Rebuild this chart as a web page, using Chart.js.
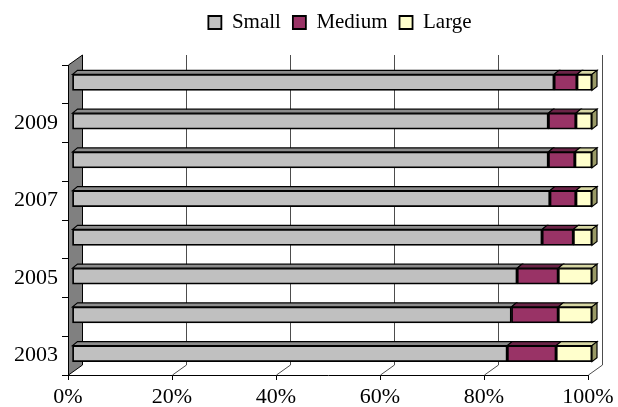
<!DOCTYPE html>
<html>
<head>
<meta charset="utf-8">
<script src="https://cdn.jsdelivr.net/npm/chart.js@4/dist/chart.umd.min.js"></script>
<style>
  html, body { margin: 0; padding: 0; background: #ffffff; }
  #wrap { width: 618px; height: 407px; }
</style>
</head>
<body>
<div id="wrap"><canvas id="c" width="618" height="407"></canvas></div>
<script>
// Share of enterprises by size class, per year
const years = ['2003', '2004', '2005', '2006', '2007', '2008', '2009', '2010'];
const small = [83.7, 84.5, 85.6, 90.4, 91.9, 91.6, 91.6, 92.7];
const medium = [9.4, 9.0, 7.9, 6.0, 5.0, 5.1, 5.3, 4.4];
const large = [6.9, 6.5, 6.5, 3.6, 3.1, 3.3, 3.1, 2.9];
const percentTicks = [0, 20, 40, 60, 80, 100];

const SERIF = "'Liberation Serif', 'Times New Roman', serif";
const LEGEND_FONT = { family: SERIF, size: 21 };
const AXIS_FONT = { family: SERIF, size: 22 };

// depth of the plot box (walls/floor) and of the bars
const WALL_DX = 14, WALL_DY = 10;
const BAR_SHIFT_X = 4, BAR_SHIFT_Y = -2;
const BAR_DX = 5, BAR_DY = 4;
const topFaces = ['#8c8c8c', '#6b2447', '#d6d6a3'];
const sideFaces = ['#8c8c8c', '#6b2447', '#999966'];

const depthPlugin = {
  id: 'depth3d',
  beforeInit(chart) {
    // leave room between the legend row and the plot box
    const fit = chart.legend.fit;
    chart.legend.fit = function () {
      fit.call(this);
      this.height += 22;
    };
  },
  beforeDatasetsDraw(chart) {
    const { ctx, chartArea: a, scales } = chart;
    const xs = scales.x;
    ctx.save();
    // back wall grid lines continuing across the floor
    ctx.strokeStyle = '#4d4d4d';
    ctx.lineWidth = 1;
    percentTicks.forEach(v => {
      if (v === 0) return;
      const px = Math.round(xs.getPixelForValue(v)) + 0.5;
      ctx.beginPath();
      ctx.moveTo(px + WALL_DX, a.top - WALL_DY);
      ctx.lineTo(px + WALL_DX, a.bottom - WALL_DY);
      ctx.lineTo(px, a.bottom);
      ctx.stroke();
    });
    // side wall
    const l = Math.round(a.left) + 0.5;
    ctx.beginPath();
    ctx.moveTo(l, a.top);
    ctx.lineTo(l + WALL_DX, a.top - WALL_DY);
    ctx.lineTo(l + WALL_DX, a.bottom - WALL_DY);
    ctx.lineTo(l, a.bottom);
    ctx.closePath();
    ctx.fillStyle = '#808080';
    ctx.fill();
    ctx.strokeStyle = '#000000';
    ctx.stroke();
    ctx.restore();

    ctx.save();
    ctx.translate(BAR_SHIFT_X, BAR_SHIFT_Y);
  },
  afterDatasetsDraw(chart) {
    const { ctx } = chart;
    ctx.lineWidth = 1.2;
    ctx.strokeStyle = '#000000';
    const n = chart.data.datasets.length;
    chart.data.datasets.forEach((ds, di) => {
      const meta = chart.getDatasetMeta(di);
      meta.data.forEach(bar => {
        const top = bar.y - bar.height / 2;
        const bottom = bar.y + bar.height / 2;
        const x0 = Math.min(bar.base, bar.x);
        const x1 = Math.max(bar.base, bar.x);
        // top face
        ctx.beginPath();
        ctx.moveTo(x0, top);
        ctx.lineTo(x0 + BAR_DX, top - BAR_DY);
        ctx.lineTo(x1 + BAR_DX, top - BAR_DY);
        ctx.lineTo(x1, top);
        ctx.closePath();
        ctx.fillStyle = topFaces[di];
        ctx.fill();
        ctx.stroke();
        // end face on the outermost segment
        if (di === n - 1) {
          ctx.beginPath();
          ctx.moveTo(x1, top);
          ctx.lineTo(x1 + BAR_DX, top - BAR_DY);
          ctx.lineTo(x1 + BAR_DX, bottom - BAR_DY);
          ctx.lineTo(x1, bottom);
          ctx.closePath();
          ctx.fillStyle = sideFaces[di];
          ctx.fill();
          ctx.stroke();
        }
      });
    });
    ctx.restore();
  }
};

const barStyle = { borderColor: '#000000', borderWidth: 1.8, borderSkipped: false, barThickness: 16, clip: false };

new Chart(document.getElementById('c'), {
  type: 'bar',
  data: {
    labels: years,
    datasets: [
      Object.assign({ label: 'Small', data: small, backgroundColor: '#c0c0c0' }, barStyle),
      Object.assign({ label: 'Medium', data: medium, backgroundColor: '#993366' }, barStyle),
      Object.assign({ label: 'Large', data: large, backgroundColor: '#ffffcc' }, barStyle)
    ]
  },
  options: {
    indexAxis: 'y',
    responsive: false,
    animation: false,
    // negative right padding widens the legend row so it centres to the right of the canvas middle
    layout: { padding: { left: 0, right: -62, top: 0, bottom: 0 } },
    plugins: {
      tooltip: { enabled: false },
      legend: {
        position: 'top',
        labels: {
          font: LEGEND_FONT,
          color: '#000000',
          boxWidth: 13,
          boxHeight: 13,
          padding: 12
        }
      }
    },
    scales: {
      x: {
        type: 'linear',
        stacked: true,
        min: 0,
        max: 100,
        afterBuildTicks(scale) {
          scale.ticks = percentTicks.map(v => ({ value: v }));
        },
        ticks: {
          font: AXIS_FONT,
          color: '#000000',
          padding: 4,
          maxRotation: 0,
          callback: v => v + '%'
        },
        grid: { drawOnChartArea: false, tickLength: 5, color: '#000000' },
        border: { display: true, color: '#000000', width: 1 },
        afterFit(scale) {
          scale.height = 32;
          scale.paddingLeft = 0;
          scale.paddingRight = 30;
        }
      },
      y: {
        type: 'category',
        stacked: true,
        reverse: true,
        ticks: {
          font: AXIS_FONT,
          color: '#000000',
          padding: 4,
          autoSkip: false,
          callback: (v, i) => (i % 2 === 0 ? years[i] : '')
        },
        grid: { offset: true, drawOnChartArea: false, tickLength: 6, color: '#000000' },
        border: { display: false },
        afterFit(scale) {
          scale.width = 68;
          scale.paddingTop = 0;
          scale.paddingBottom = 0;
        }
      }
    }
  },
  plugins: [depthPlugin]
});
</script>
</body>
</html>
